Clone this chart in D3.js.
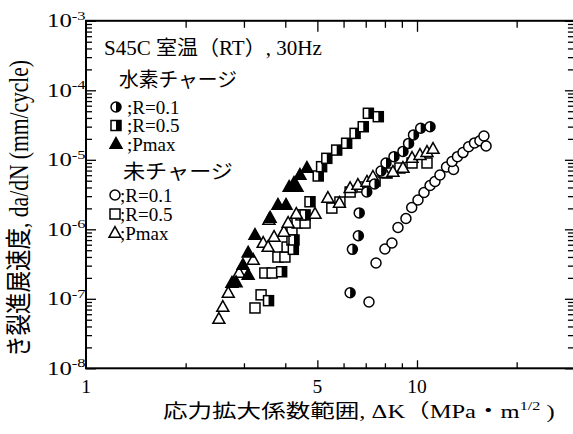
<!DOCTYPE html>
<html>
<head>
<meta charset="utf-8">
<script src="https://cdn.jsdelivr.net/npm/d3@7"></script>
<style>
  html, body { margin: 0; padding: 0; background: #fff; }
  svg { display: block; }
  text { font-family: "Liberation Serif", "Noto Sans CJK JP", serif; fill: #000; }
</style>
</head>
<body>
<svg id="chart" width="573" height="434"></svg>
<script>
// ΔK (MPa·m^1/2) and da/dN (mm/cycle) for each test condition

// Hydrogen-charged, R = 0.1
const h01K    = [6.28, 6.38, 6.65, 6.69, 7.05, 7.44, 7.79, 8.06, 8.52, 9.07, 9.43, 9.76, 10.26, 10.95];
const h01Rate = [1.22e-7, 5.15e-7, 8.09e-7, 1.72e-6, 3.44e-6, 4.49e-6, 6.90e-6, 9.0e-6, 1.11e-5, 1.32e-5, 1.72e-5, 2.28e-5, 2.84e-5, 2.99e-5];

// Hydrogen-charged, R = 0.5
const h05K    = [3.56, 3.90, 4.23, 4.25, 4.59, 4.75, 5.03, 5.15, 5.34, 5.72, 6.13, 6.50, 6.88, 7.13, 7.64];
const h05Rate = [9.4e-8, 2.45e-7, 5.15e-7, 7.02e-7, 1.61e-6, 2.49e-6, 5.85e-6, 7.96e-6, 1.05e-5, 1.38e-5, 1.73e-5, 2.40e-5, 2.99e-5, 4.67e-5, 4.17e-5];

// Hydrogen-charged, Pmax
const hPK    = [2.76, 2.84, 2.98, 3.09, 3.09, 3.24, 3.60, 3.80, 4.02, 4.11, 4.25, 4.34, 4.43, 4.65];
const hPRate = [1.69e-7, 1.72e-7, 3.06e-7, 2.20e-7, 4.60e-7, 8.28e-7, 1.46e-6, 2.24e-6, 2.24e-6, 4.06e-6, 4.63e-6, 4.06e-6, 6.04e-6, 7.62e-6];

// Uncharged, R = 0.1
const u01K    = [7.16, 7.52, 8.0, 8.40, 8.76, 9.26, 9.64, 10.07, 10.5, 10.95, 11.33, 11.73, 12.28, 12.89, 12.76, 13.25, 13.77, 14.32, 14.92, 15.49, 15.93, 16.17];
const u01Rate = [9.0e-8, 3.27e-7, 5.21e-7, 6.35e-7, 1.06e-6, 1.43e-6, 2.06e-6, 2.64e-6, 3.38e-6, 4.27e-6, 4.88e-6, 6.04e-6, 7.87e-6, 7.24e-6, 9.46e-6, 1.11e-5, 1.27e-5, 1.54e-5, 1.75e-5, 1.88e-5, 2.20e-5, 1.58e-5];

// Uncharged, R = 0.5
const u05K    = [3.24, 3.38, 3.47, 3.65, 3.80, 3.99, 4.05, 4.19, 4.19, 4.34, 4.59, 4.46, 5.53, 5.85, 6.28, 6.82, 7.47, 8.12, 8.88, 9.66, 10.72];
const u05Rate = [7.38e-8, 1.14e-7, 2.35e-7, 2.35e-7, 3.99e-7, 3.99e-7, 5.56e-7, 7.02e-7, 9.77e-7, 1.23e-6, 1.23e-6, 1.61e-6, 2.02e-6, 2.47e-6, 3.44e-6, 4.06e-6, 4.95e-6, 6.46e-6, 7.62e-6, 9.0e-6, 9.0e-6];

// Uncharged, Pmax
const uPK    = [2.52, 2.59, 2.69, 2.90, 3.20, 3.43, 3.55, 3.57, 3.70, 3.96, 4.08, 4.32, 4.92, 5.38, 5.83, 6.28, 6.63, 7.06, 7.36, 8.0, 8.46, 9.07, 9.66, 10.21, 10.72, 11.18];
const uPRate = [5.12e-8, 7.62e-8, 1.21e-7, 2.35e-7, 3.61e-7, 6.35e-7, 5.56e-7, 1.36e-6, 7.74e-7, 9.14e-7, 1.23e-6, 1.66e-6, 1.66e-6, 2.82e-6, 2.39e-6, 3.89e-6, 4.34e-6, 4.80e-6, 5.66e-6, 6.40e-6, 6.67e-6, 7.62e-6, 1.06e-5, 1.17e-5, 1.29e-5, 1.43e-5];

// Axis ticks
const xMinorTicks = [2, 3, 4, 6, 7, 8, 9];
const xTickLabels = [1, 5, 10];
const yMajorExp = [-8, -7, -6, -5, -4, -3];

const svg = d3.select("#chart");
const plotLeft = 86, plotRight = 86 + 331 * Math.log10(30), plotTop = 20.8, plotBottom = 368.3;

const x = d3.scaleLog().domain([1, 30]).range([plotLeft, plotRight]);
const y = d3.scaleLog().domain([1e-8, 1e-3]).range([plotBottom, plotTop]);

const yMinorTicks = [];
yMajorExp.slice(0, -1).forEach(e => { for (let m = 2; m <= 9; m++) yMinorTicks.push(m * Math.pow(10, e)); });
const yMajorTicks = yMajorExp.map(e => Math.pow(10, e));

// Stretch a text horizontally so its ink runs from x0 to x1 (baseline at yb)
function fitText(sel, x0, x1, yb) {
  sel.attr("x", 0).attr("y", 0).attr("text-anchor", "start");
  const b = sel.node().getBBox();
  const s = (x1 - x0) / b.width;
  sel.attr("transform", `translate(${x0 - b.x * s},${yb}) scale(${s},1)`);
}

// Frame with inward ticks on all four sides
const axisG = svg.append("g");
function tickAxis(axisFn, scale, values, size, transform) {
  const g = axisG.append("g").attr("transform", transform)
    .call(axisFn(scale).tickValues(values).tickSize(size).tickSizeOuter(0).tickFormat(""));
  g.select(".domain").remove();
  g.selectAll(".tick line").attr("stroke", "#000").attr("stroke-width", 1.3);
  return g;
}
tickAxis(d3.axisBottom, x, [5, 10], -8, `translate(0,${plotBottom})`);
tickAxis(d3.axisBottom, x, [20], -6, `translate(0,${plotBottom})`);
tickAxis(d3.axisBottom, x, xMinorTicks, -5, `translate(0,${plotBottom})`);
tickAxis(d3.axisTop, x, [5, 10], -11, `translate(0,${plotTop})`);
tickAxis(d3.axisTop, x, [20], -7, `translate(0,${plotTop})`);
tickAxis(d3.axisTop, x, xMinorTicks, -7, `translate(0,${plotTop})`);
tickAxis(d3.axisLeft, y, yMajorTicks, -10, `translate(${plotLeft},0)`);
tickAxis(d3.axisLeft, y, yMinorTicks, -6, `translate(${plotLeft},0)`);
tickAxis(d3.axisRight, y, yMajorTicks, -10, `translate(${plotRight},0)`);
tickAxis(d3.axisRight, y, yMinorTicks, -7, `translate(${plotRight},0)`);

axisG.append("rect")
  .attr("x", plotLeft).attr("y", plotTop)
  .attr("width", plotRight - plotLeft).attr("height", plotBottom - plotTop)
  .attr("fill", "none").attr("stroke", "#000").attr("stroke-width", 2);

// Tick labels
svg.append("g").selectAll("text").data(xTickLabels).join("text")
  .attr("x", d => x(d)).attr("y", 393)
  .attr("text-anchor", "middle").attr("font-size", 19.5)
  .text(d => d);

const yl = svg.append("g").selectAll("text").data(yMajorExp).join("text")
  .attr("text-anchor", "end").attr("font-size", 19.5)
  .attr("transform", d => `translate(85.5,${y(Math.pow(10, d)) + 6.5}) scale(1.27,1)`);
yl.append("tspan").text("10");
yl.append("tspan").attr("dy", -7.5).attr("font-size", 13).text(d => d);

// Axis titles
const xt = svg.append("text").attr("font-size", 19);
xt.append("tspan").text("応力拡大係数範囲, ΔK（MPa・m");
xt.append("tspan").attr("dy", -8).attr("font-size", 12.5).text("1/2");
xt.append("tspan").attr("dy", 8).text(" )");
fitText(xt, 163, 555, 418);

const ytTitle = svg.append("text").attr("font-size", 20.5).attr("text-anchor", "middle")
  .text("き裂進展速度, da/dN (mm/cycle)");
{
  const len = ytTitle.node().getComputedTextLength();
  const s = 297 / len;
  ytTitle.attr("transform", `translate(28,208.5) scale(1.3,${s}) rotate(-90)`);
}

// Marker shapes
function triPath(cx, cy, s) {
  const h = s * 0.9;
  return `M${cx},${cy - h * 0.6}L${cx + s / 2},${cy + h * 0.4}L${cx - s / 2},${cy + h * 0.4}Z`;
}
function drawMarker(g, kind, cx, cy) {
  const sw = 1.5;
  if (kind === "circle" || kind === "halfCircle") {
    g.append("circle").attr("cx", cx).attr("cy", cy).attr("r", 5)
      .attr("fill", "#fff").attr("stroke", "#000").attr("stroke-width", sw);
    if (kind === "halfCircle") {
      g.append("path").attr("d", `M${cx},${cy - 5}A5,5 0 0 1 ${cx},${cy + 5}Z`).attr("fill", "#000");
    }
  } else if (kind === "square" || kind === "halfSquare") {
    g.append("rect").attr("x", cx - 5).attr("y", cy - 5).attr("width", 10).attr("height", 10)
      .attr("fill", "#fff").attr("stroke", "#000").attr("stroke-width", sw);
    if (kind === "halfSquare") {
      g.append("rect").attr("x", cx).attr("y", cy - 5).attr("width", 5).attr("height", 10).attr("fill", "#000");
    }
  } else {
    g.append("path").attr("d", triPath(cx, cy, 12))
      .attr("fill", kind === "filledTriangle" ? "#000" : "#fff")
      .attr("stroke", "#000").attr("stroke-width", sw);
  }
}
function drawMarkers(g, kind, xs, ys) {
  xs.forEach((k, i) => drawMarker(g, kind, x(k), y(ys[i])));
}

const marks = svg.append("g");
drawMarkers(marks, "square", u05K, u05Rate);
drawMarkers(marks, "halfSquare", h05K, h05Rate);
drawMarkers(marks, "triangle", uPK, uPRate);
drawMarkers(marks, "filledTriangle", hPK, hPRate);
drawMarkers(marks, "circle", u01K, u01Rate);
drawMarkers(marks, "halfCircle", h01K, h01Rate);

// Title and legend
const title = svg.append("text").attr("font-size", 20).text("S45C  室温（RT）, 30Hz");
fitText(title, 104, 322, 55);

const legend = svg.append("g");
const hHead = legend.append("text").attr("font-size", 20).text("水素チャージ");
fitText(hHead, 119, 237, 87);
const uHead = legend.append("text").attr("font-size", 20).text("未チャージ");
fitText(uHead, 123, 233, 179);

const legendRows = [
  { kind: "halfCircle", label: ";R=0.1", y: 107, mx: 116, tx: 127 },
  { kind: "halfSquare", label: ";R=0.5", y: 125.5, mx: 116, tx: 127 },
  { kind: "filledTriangle", label: ";Pmax", y: 144, mx: 116, tx: 127 },
  { kind: "circle", label: ";R=0.1", y: 195, mx: 115, tx: 120 },
  { kind: "square", label: ";R=0.5", y: 214, mx: 115, tx: 120 },
  { kind: "triangle", label: ";Pmax", y: 233, mx: 115, tx: 120 }
];
legendRows.forEach(r => {
  drawMarker(legend, r.kind, r.mx, r.y);
  legend.append("text").attr("x", r.tx).attr("y", r.y + 6.5).attr("font-size", 19).text(r.label);
});
</script>
</body>
</html>
